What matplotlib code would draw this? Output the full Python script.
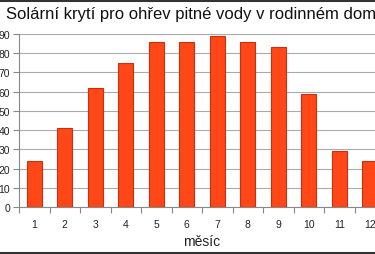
import matplotlib
matplotlib.use("Agg")
import matplotlib.pyplot as plt
from matplotlib.lines import Line2D

plt.rcParams['font.family'] = ['Liberation Sans', 'DejaVu Sans']

# data
months = ['1', '2', '3', '4', '5', '6', '7', '8', '9', '10', '11', '12']
coverage = [24, 41, 62, 75, 86, 86, 89, 86, 83, 59, 29, 24]
y_ticks = [0, 10, 20, 30, 40, 50, 60, 70, 80, 90]

W, H = 375, 255
fig = plt.figure(figsize=(W / 100, H / 100), dpi=100)

# axes runs off the right edge like in the cropped original
ax = fig.add_axes([19 / W, (H - 208) / H, 366 / W, 173 / H])

x = list(range(len(months)))
ax.bar(x, coverage, width=0.5, color='#FF4717', edgecolor='#C8300E', linewidth=0.8, zorder=3)

ax.set_xlim(-0.5, len(months) - 0.5)
ax.set_ylim(0, 90)
ax.set_yticks(y_ticks)
ax.set_yticklabels([str(v) for v in y_ticks], fontsize=7.5)
ax.set_xticks(x)
ax.set_xticklabels(months, fontsize=7.5)
ax.set_xticks([i - 0.5 for i in range(len(months) + 1)], minor=True)
ax.tick_params(axis='x', which='major', length=0, pad=9, colors='#222222')
ax.tick_params(axis='x', which='minor', length=4, color='#888888', width=0.8)
ax.tick_params(axis='y', length=4, width=0.8, pad=2.5, colors='#222222')
ax.tick_params(axis='y', which='both', color='#888888')

ax.grid(axis='y', color='#AAAAAA', linewidth=0.8, zorder=0)
ax.set_axisbelow(True)
for s in ['top', 'right']:
    ax.spines[s].set_visible(False)
for s in ['left', 'bottom']:
    ax.spines[s].set_color('#888888')
    ax.spines[s].set_linewidth(0.8)

ax.set_xlabel('měsíc', fontsize=10, labelpad=3, color='#222222')

fig.text(6 / W, 1 - 15 / H, 'Solární krytí pro ohřev pitné vody v rodinném domě',
         fontsize=12, ha='left', va='center', color='#111111')

# dark frame lines at top and bottom of the crop
fig.add_artist(Line2D([0, 1], [1 - 1 / H, 1 - 1 / H], color='#333333', linewidth=2.2))
fig.add_artist(Line2D([0, 1], [1.5 / H, 1.5 / H], color='#333333', linewidth=2.2))

fig.savefig('out.png', dpi=100)
